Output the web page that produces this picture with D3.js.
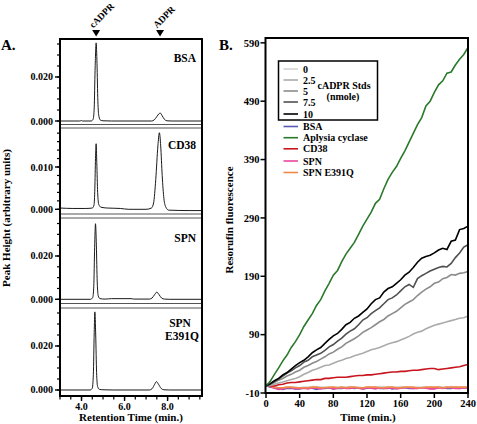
<!DOCTYPE html>
<html><head><meta charset="utf-8">
<script src="https://cdn.jsdelivr.net/npm/d3@7"></script>
<style>
body{margin:0;background:#fff}
text{font-family:"Liberation Serif","Times New Roman",serif;font-weight:bold;fill:#000}
</style>
</head><body><svg id="c" width="477" height="424"></svg>
<script>
// ---------- Panel A data (retention time in min, peak height) ----------
const panelNames = ["BSA", "CD38", "SPN", "SPN\nE391Q"];
const bsaTrace = [[3.0,0],[3.9,0],[4.0,0.0002],[4.05,0],[4.45,0],[4.54,0.0008],[4.59,0.006],[4.63,0.023],[4.68,0.0355],[4.72,0.026],[4.76,0.009],[4.81,0.002],[4.88,0.0004],[5.0,0.0001],[5.4,0],[7.25,0],[7.38,0.0005],[7.5,0.002],[7.6,0.0033],[7.66,0.0036],[7.75,0.0024],[7.85,0.0008],[7.97,0.0001],[8.2,0],[9.6,0]];
const cd38Trace = [[3.0,0.0003],[3.6,0.0002],[4.2,0.0002],[4.5,0.0003],[4.58,0.001],[4.62,0.005],[4.65,0.012],[4.68,0.0155],[4.71,0.011],[4.75,0.004],[4.8,0.0012],[4.9,0.0005],[5.2,0.0003],[5.8,0.0002],[6.2,0],[7.0,0],[7.25,0.0003],[7.35,0.0015],[7.45,0.007],[7.55,0.015],[7.62,0.0181],[7.68,0.015],[7.75,0.008],[7.83,0.0025],[7.92,0.0005],[8.05,-0.0002],[9.0,-0.0003],[9.6,-0.0003]];
const spnTrace = [[3.0,0],[4.42,0],[4.52,0.0008],[4.57,0.006],[4.61,0.024],[4.65,0.0349],[4.69,0.025],[4.73,0.008],[4.78,0.0015],[4.86,0.0003],[5.1,0.0001],[5.4,0.0003],[6.3,0.0003],[6.45,0.0001],[7.15,0.0001],[7.28,0.0006],[7.4,0.0022],[7.5,0.0033],[7.6,0.0022],[7.72,0.0006],[7.85,0.0001],[8.1,0],[9.6,0]];
const e391qTrace = [[3.0,0],[4.4,0],[4.5,0.0008],[4.55,0.007],[4.59,0.026],[4.62,0.0355],[4.66,0.025],[4.7,0.008],[4.75,0.0015],[4.83,0.0003],[5.0,0.0001],[5.5,0],[7.15,0],[7.28,0.0006],[7.4,0.0026],[7.48,0.0038],[7.58,0.0026],[7.7,0.0007],[7.83,0.0001],[8.1,0],[9.6,0]];
const panelYDomains = [[-0.00159,0.03727],[-0.00111,0.01922],[-0.00194,0.03755],[-0.00273,0.03727]];
const panelMajorTicks = [[0,0.02],[0,0.01],[0,0.02],[0,0.02]];
const panelMinorStep = [0.005,0.002,0.005,0.005];
const rtDomain = [3.0, 9.6];
const rtMajorTicks = [4, 6, 8];
const peakMarkers = [["cADPR", 4.68], ["ADPR", 7.65]];

// ---------- Panel B data (time in min, resorufin fluorescence) ----------
const timeMin = [0,5,10,15,20,25,30,35,40,45,50,55,60,65,70,75,80,85,90,95,100,105,110,115,120,125,130,135,140,145,150,155,160,165,170,175,180,185,190,195,200,205,210,215,220,225,230,235,240];
const std0   = [3,2,1,-1,-1,0,0,0,-1,0,0,1,1,0,0,-1,0,0,0,0,1,0,0,-1,0,0,0,1,1,0,0,0,1,0,0,-1,0,0,0,0,0,1,0,0,1,0,0,0,0];
const std25  = [2,3,5,7,9,11,13,15,18,22,25,29,31,34,37,38,41,44,46,49,51,54,56,58,61,64,66,68,71,74,76,78,81,84,87,91,94,96,100,103,106,108,110,112,114,116,118,119,122];
const std5   = [2,5,8,12,15,19,22,26,29,34,37,41,44,48,52,57,60,65,69,75,79,83,88,94,98,102,107,112,116,122,126,130,136,142,146,150,157,163,168,172,178,180,186,188,193,192,195,196,198];
const std75  = [2,5,10,14,19,24,28,33,37,43,46,52,55,58,63,69,73,79,84,91,96,100,107,115,119,126,131,136,143,150,153,158,165,172,176,171,186,191,195,199,202,205,207,206,212,222,230,240,244];
const std10  = [2,6,11,15,21,25,31,37,42,46,52,59,64,68,75,82,88,92,99,107,111,118,122,128,134,143,150,153,163,169,172,178,184,192,197,205,214,221,224,226,230,235,238,236,250,252,270,272,276];
const bsa    = [3,0,-1,-3,-4,-2,-2,-3,-3,-1,-1,-2,-4,-2,-2,-1,-3,-2,-2,-1,-1,-2,-1,-3,-2,-1,-1,-2,-2,-1,-3,-2,-1,-1,-2,-2,-1,-1,-1,-2,-2,-1,-1,-2,-2,-1,-2,-1,-1];
const aplysia= [2,10,22,33,45,55,68,78,90,104,115,126,140,150,165,178,192,200,215,228,238,248,262,276,288,300,315,322,340,356,368,378,392,405,420,435,450,462,482,490,505,518,525,538,540,552,562,570,582];
const cd38   = [4,2,2,4,5,7,8,8,9,10,11,12,13,13,15,15,16,17,17,17,18,19,20,20,21,21,22,23,24,25,26,26,27,27,28,29,29,30,31,32,32,30,31,32,33,34,35,37,39];
const spn    = [4,1,-2,-4,-3,-1,-1,-3,-2,-2,-3,-1,-2,-3,-1,-1,-3,-2,-1,-2,-2,-1,-2,-3,-1,-2,-3,-1,-2,-2,-1,-3,-2,-1,-1,-2,-2,-1,-2,-3,-3,-1,-2,-1,-1,-2,-2,-1,-2];
const e391q  = [5,2,0,-1,-1,0,0,-1,-1,-1,-1,0,0,-1,-1,0,0,-1,0,-1,0,0,-1,-1,0,0,0,-1,-1,0,0,-1,-1,0,0,0,-1,-1,0,0,0,0,-1,0,0,0,0,0,0];
const stdLabels = ["0","2.5","5","7.5","10"];
const stdSeries = [std0, std25, std5, std75, std10];
const stdColors = ["#d4d4d4","#ababab","#8c8c8c","#505050","#000000"];
const sampleLabels = ["BSA","Aplysia cyclase","CD38","SPN","SPN E391Q"];
const sampleSeries = [bsa, aplysia, cd38, spn, e391q];
const sampleColors = ["#5a5ab4","#2b7a2b","#c8141e","#e8489c","#f0894a"];
const bYTicks = [-10,90,190,290,390,490,590];
const bXTicks = [0,40,80,120,160,200,240];

// ---------- Drawing ----------
const svg = d3.select("#c");
const defs = svg.append("defs");

// Panel A
const AL = 60, AR = 202;
const panelTops = [39,128,218,308], panelBottoms = [124.5,214,303.5,396];
const xA = d3.scaleLinear().domain(rtDomain).range([AL, AR]);
const traces = [bsaTrace, cd38Trace, spnTrace, e391qTrace];

traces.forEach((tr, i) => {
  const y = d3.scaleLinear().domain(panelYDomains[i]).range([panelBottoms[i], panelTops[i]]);
  const id = "clipA" + i;
  defs.append("clipPath").attr("id", id).append("rect")
    .attr("x", AL).attr("y", panelTops[i]).attr("width", AR-AL).attr("height", panelBottoms[i]-panelTops[i]);
  if (i > 0) svg.append("line").attr("x1",AL).attr("x2",AR).attr("y1",panelTops[i]).attr("y2",panelTops[i]).attr("stroke","#555").attr("stroke-width",1);
  if (i < 3) svg.append("line").attr("x1",AL).attr("x2",AR).attr("y1",panelBottoms[i]).attr("y2",panelBottoms[i]).attr("stroke","#555").attr("stroke-width",1);
  const line = d3.line().x(d => xA(d[0])).y(d => y(d[1])).curve(d3.curveMonotoneX);
  svg.append("path").datum(tr).attr("clip-path","url(#"+id+")")
    .attr("d", line).attr("fill","none").attr("stroke","#1a1a1a").attr("stroke-width",1);
  const dom = panelYDomains[i];
  const minor = d3.range(0, dom[1], panelMinorStep[i]);
  const g = svg.append("g");
  g.selectAll(".mn").data(minor).join("line")
    .attr("x1", AL-3).attr("x2", AL).attr("y1", d => y(d)).attr("y2", d => y(d))
    .attr("stroke","#000").attr("stroke-width",1.2);
  g.selectAll(".mj").data(panelMajorTicks[i]).join("line")
    .attr("x1", AL-5).attr("x2", AL).attr("y1", d => y(d)).attr("y2", d => y(d))
    .attr("stroke","#000").attr("stroke-width",1.4);
  g.selectAll("text").data(panelMajorTicks[i]).join("text")
    .attr("x", AL-7).attr("y", d => y(d)).attr("dy","0.35em")
    .attr("text-anchor","end").attr("font-size",10).text(d => d3.format(".3f")(d));
  const parts = panelNames[i].split("\n");
  if (parts.length === 1) {
    svg.append("text").attr("x", 196).attr("y", [62,149,242][i]).attr("text-anchor","end")
      .attr("font-size",11.5).text(parts[0]);
  } else {
    svg.append("text").attr("x", 180).attr("y", 327).attr("text-anchor","middle").attr("font-size",11.5).text(parts[0]);
    svg.append("text").attr("x", 182).attr("y", 339.5).attr("text-anchor","middle").attr("font-size",11.5).text(parts[1]);
  }
});
svg.append("rect").attr("x",AL).attr("y",39).attr("width",AR-AL).attr("height",396-39)
  .attr("fill","none").attr("stroke","#000").attr("stroke-width",2);
const rtMinor = d3.range(3.0, 9.6, 0.5);
svg.selectAll(".rtmn").data(rtMinor).join("line")
  .attr("x1", d => xA(d)).attr("x2", d => xA(d)).attr("y1",396).attr("y2",399.5)
  .attr("stroke","#000").attr("stroke-width",1.2);
svg.selectAll(".rtmj").data(rtMajorTicks).join("line")
  .attr("x1", d => xA(d)).attr("x2", d => xA(d)).attr("y1",396).attr("y2",401)
  .attr("stroke","#000").attr("stroke-width",1.4);
svg.selectAll(".rtlb").data(rtMajorTicks).join("text")
  .attr("x", d => xA(d)).attr("y", 410).attr("text-anchor","middle").attr("font-size",10)
  .text(d => d3.format(".1f")(d));
svg.append("text").attr("x",131).attr("y",421).attr("text-anchor","middle").attr("font-size",11).text("Retention Time (min.)");
svg.append("text").attr("transform","translate(10,218) rotate(-90)").attr("text-anchor","middle").attr("font-size",11).text("Peak Height (arbitrary units)");
svg.append("text").attr("x",1).attr("y",50).attr("font-size",15).text("A.");
peakMarkers.forEach(([lab, t]) => {
  const x = xA(t);
  svg.append("path").attr("d", `M${x-4},30 L${x+4},30 L${x},36.5 Z`).attr("fill","#000");
  svg.append("text").attr("transform",`translate(${x-3},28.5) rotate(-45)`).attr("font-size",9.5).text(lab);
});

// Panel B
const BL = 265.5, BR = 468, BT = 38, BB = 393;
const xB = d3.scaleLinear().domain([0,240]).range([266, 468]);
const yB = d3.scaleLinear().domain([-10, 600]).range([393, 37]);
defs.append("clipPath").attr("id","clipB").append("rect").attr("x",BL).attr("y",BT).attr("width",BR-BL).attr("height",BB-BT);
const lineB = d3.line().x((d,i) => xB(timeMin[i])).y(d => yB(d));
const gB = svg.append("g").attr("clip-path","url(#clipB)");
const drawOrder = [
  [std0, stdColors[0]], [bsa, sampleColors[0]], [spn, sampleColors[3]], [e391q, sampleColors[4]],
  [cd38, sampleColors[2]], [std25, stdColors[1]], [std5, stdColors[2]], [std75, stdColors[3]],
  [std10, stdColors[4]], [aplysia, sampleColors[1]]
];
drawOrder.forEach(([s, c]) => {
  gB.append("path").datum(s).attr("d", lineB).attr("fill","none").attr("stroke", c).attr("stroke-width",1.6);
});
svg.append("rect").attr("x",BL).attr("y",BT).attr("width",BR-BL).attr("height",BB-BT)
  .attr("fill","none").attr("stroke","#000").attr("stroke-width",2);
svg.selectAll(".byt").data(bYTicks).join("line")
  .attr("x1",BL-5).attr("x2",BL).attr("y1",d=>yB(d)).attr("y2",d=>yB(d)).attr("stroke","#000").attr("stroke-width",1.5);
svg.selectAll(".byl").data(bYTicks).join("text")
  .attr("x",BL-6).attr("y",d=>yB(d)).attr("dy","0.35em").attr("text-anchor","end").attr("font-size",10.5).text(d=>d);
svg.selectAll(".bxt").data(bXTicks).join("line")
  .attr("x1",d=>xB(d)).attr("x2",d=>xB(d)).attr("y1",BB).attr("y2",BB+5).attr("stroke","#000").attr("stroke-width",1.5);
svg.selectAll(".bxl").data(bXTicks).join("text")
  .attr("x",d=>xB(d)).attr("y",407).attr("text-anchor","middle").attr("font-size",10.5).text(d=>d);
svg.append("text").attr("x",368).attr("y",421).attr("text-anchor","middle").attr("font-size",11).text("Time (min.)");
svg.append("text").attr("transform","translate(233,220) rotate(-90)").attr("text-anchor","middle").attr("font-size",11).text("Resorufin fluorescence");
svg.append("text").attr("x",219).attr("y",50).attr("font-size",15).text("B.");

// Legend
svg.append("rect").attr("x",278.5).attr("y",61).attr("width",99).attr("height",59)
  .attr("fill","#fff").attr("stroke","#000").attr("stroke-width",1.5);
const stdY = [69,80,91,102,114];
stdLabels.forEach((l,i) => {
  svg.append("line").attr("x1",283.5).attr("x2",298).attr("y1",stdY[i]).attr("y2",stdY[i]).attr("stroke",stdColors[i]).attr("stroke-width",1.6);
  svg.append("text").attr("x",303).attr("y",stdY[i]).attr("dy","0.35em").attr("font-size",10).text(l);
});
svg.append("text").attr("x",344).attr("y",88.5).attr("text-anchor","middle").attr("font-size",10).text("cADPR Stds");
svg.append("text").attr("x",343).attr("y",100).attr("text-anchor","middle").attr("font-size",10).text("(nmole)");
const smpY = [126.5,137.7,148.8,161,172.5];
sampleLabels.forEach((l,i) => {
  svg.append("line").attr("x1",283.5).attr("x2",298).attr("y1",smpY[i]).attr("y2",smpY[i]).attr("stroke",sampleColors[i]).attr("stroke-width",1.6);
  svg.append("text").attr("x",303).attr("y",smpY[i]).attr("dy","0.35em").attr("font-size",10).text(l);
});
</script>
</body></html>
